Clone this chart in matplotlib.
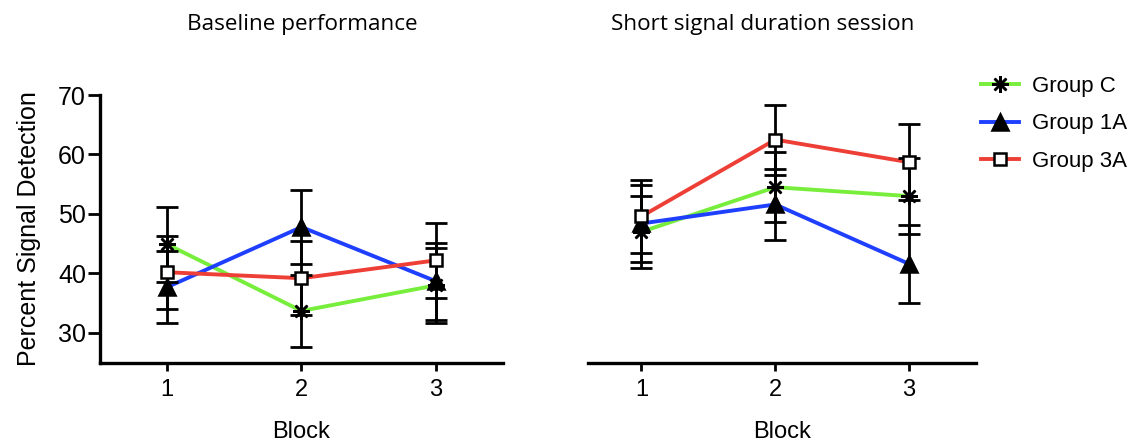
import numpy as np
import matplotlib
matplotlib.use("Agg")
import matplotlib.pyplot as plt
from matplotlib.lines import Line2D

blocks = [1, 2, 3]

# mean percent signal detection per block
base_c = [44.9, 33.7, 38.0]
base_1a = [37.7, 47.8, 38.7]
base_3a = [40.2, 39.2, 42.2]
base_c_err = [6.3, 6.0, 6.3]
base_1a_err = [6.0, 6.2, 6.5]
base_3a_err = [6.1, 6.2, 6.3]

short_c = [47.0, 54.5, 53.0]
short_1a = [48.4, 51.6, 41.6]
short_3a = [49.6, 62.5, 58.7]
short_c_err = [6.0, 5.9, 6.4]
short_1a_err = [6.4, 5.9, 6.6]
short_3a_err = [6.1, 5.9, 6.4]

groups = ["Group C", "Group 1A", "Group 3A"]
colors = ["#78EE3C", "#1F3FFF", "#EE3F37"]
markers = [(8, 2, 0), "^", "s"]
msizes = [12, 11, 9]
face = ["k", "k", "white"]

plt.rcParams["font.family"] = ["Liberation Sans", "DejaVu Sans"]

fig = plt.figure(figsize=(11.27, 4.45), dpi=100)
ax1 = fig.add_axes([0.0887, 0.185, 0.3576, 0.6015])
ax2 = fig.add_axes([0.5217, 0.185, 0.3443, 0.6015])


def draw(ax, means, errs):
    for m, e, c, mk, ms, fc in zip(means, errs, colors, markers, msizes, face):
        ax.plot(blocks, m, color=c, lw=2.8, zorder=2)
        ax.errorbar(blocks, m, yerr=e, fmt="none", ecolor="k", elinewidth=2,
                    capsize=8, capthick=2, zorder=3)
        ax.plot(blocks, m, ls="none", marker=mk, ms=ms, mfc=fc, mec="k",
                mew=1.8, zorder=4)
    ax.set_ylim(25, 70)
    ax.set_xticks(blocks)
    ax.spines["top"].set_visible(False)
    ax.spines["right"].set_visible(False)
    for s in ax.spines.values():
        s.set_linewidth(2.4)
    ax.tick_params(axis="x", length=6, width=2, labelsize=17, pad=6)
    ax.set_xlabel("Block", fontsize=17, labelpad=14)


draw(ax1, [base_c, base_1a, base_3a], [base_c_err, base_1a_err, base_3a_err])
draw(ax2, [short_c, short_1a, short_3a], [short_c_err, short_1a_err, short_3a_err])

ax1.set_xlim(0.5, 3.5)
ax1.set_yticks([30, 40, 50, 60, 70])
ax1.tick_params(axis="y", length=9, width=2, labelsize=18, pad=1)
ax1.set_ylabel("Percent Signal Detection", fontsize=18, labelpad=12)

ax2.set_xlim(0.6, 3.5)
ax2.spines["left"].set_visible(False)
ax2.set_yticks([])

fig.text(0.268, 0.945, "Baseline performance", ha="center", va="center",
         fontsize=16.2, family=["Open Sans", "DejaVu Sans"])
fig.text(0.677, 0.945, "Short signal duration session", ha="center", va="center",
         fontsize=16.2, family=["Open Sans", "DejaVu Sans"])

handles = [Line2D([], [], color=c, lw=2.8, marker=mk, ms=ms, mfc=fc, mec="k", mew=1.8)
           for c, mk, ms, fc in zip(colors, markers, msizes, face)]
fig.legend(handles, groups, loc="upper left", bbox_to_anchor=(0.853, 0.875),
           frameon=False, fontsize=16, handlelength=1.7, labelspacing=0.75,
           handletextpad=0.6)

fig.savefig("out.png", dpi=100)
